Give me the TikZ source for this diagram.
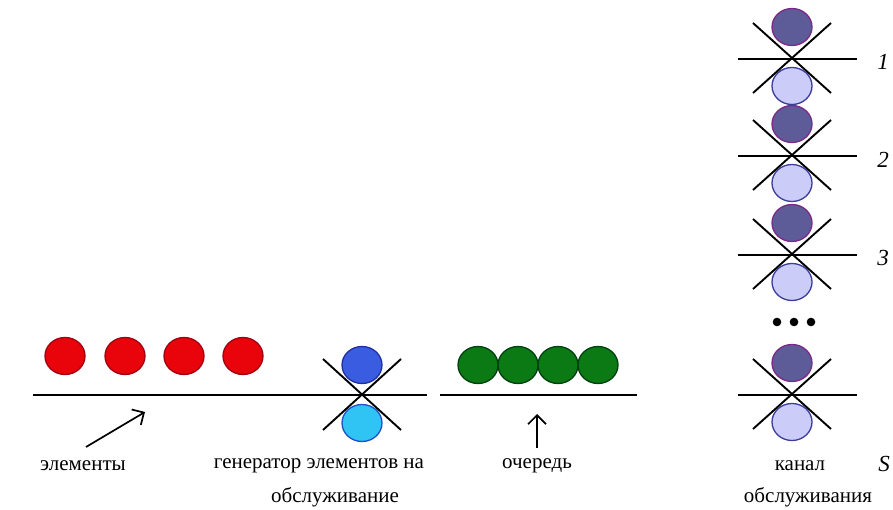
\documentclass[tikz,border=0pt]{standalone}
\usepackage{fontspec}
\setmainfont{Liberation Serif}
\usetikzlibrary{shapes.geometric,arrows.meta}
\definecolor{redf}{HTML}{E8040A}
\definecolor{redd}{HTML}{A00010}
\definecolor{grf}{HTML}{0B7A14}
\definecolor{grd}{HTML}{004010}
\definecolor{bluf}{HTML}{3A5CE0}
\definecolor{blud}{HTML}{2030A0}
\definecolor{cyf}{HTML}{30C4F4}
\definecolor{cyd}{HTML}{2050C8}
\definecolor{puf}{HTML}{5E5C98}
\definecolor{pud}{HTML}{7A2A88}
\definecolor{lvf}{HTML}{CCCCF8}
\definecolor{lvd}{HTML}{3C3C9C}
\tikzset{
  ball/.style={ellipse, minimum width=40pt, minimum height=37pt, inner sep=0pt, line width=1.3pt},
  redball/.style={ball, draw=redd, fill=redf},
  greenball/.style={ball, draw=grd, fill=grf},
  blueball/.style={ball, draw=blud, fill=bluf},
  cyanball/.style={ball, draw=cyd, fill=cyf},
  purpleball/.style={ball, draw=pud, fill=puf},
  lavball/.style={ball, draw=lvd, fill=lvf},
  track/.style={line width=2.2pt, black},
  xline/.style={line width=1.9pt, black},
  lbl/.style={font=\fontsize{21}{24}\selectfont, inner sep=0pt},
  num/.style={font=\fontsize{23}{26}\selectfont\itshape, inner sep=0pt},
  pointer/.style={line width=1.7pt, -{Straight Barb[length=9pt,width=18pt,line width=1.7pt]}}
}
\begin{document}
\begin{tikzpicture}[x=1pt,y=-1pt]
\useasboundingbox (0,0) rectangle (893,510);
% bottom track
\coordinate (t1s) at (33,395);
\coordinate (t1e) at (427,395);
\draw[track] (t1s) -- (t1e);
\node[redball] (r1) at (65,356) {};
\node[redball] (r2) at (125,356) {};
\node[redball] (r3) at (184,356) {};
\node[redball] (r4) at (243,356) {};
% generator
\coordinate (g) at (362,395);
\node[blueball] (gb) at (362,365) {};
\node[cyanball] (gc) at (362,423) {};
\coordinate (ga) at (323,359);
\coordinate (gb2) at (401,430);
\coordinate (gc1) at (323,430);
\coordinate (gd) at (401,359);
\draw[xline] (ga) -- (gb2);
\draw[xline] (gc1) -- (gd);
% queue
\coordinate (t2s) at (440,395);
\coordinate (t2e) at (637,395);
\draw[track] (t2s) -- (t2e);
\node[greenball] (q1) at (478,365) {};
\node[greenball] (q2) at (518,365) {};
\node[greenball] (q3) at (558,365) {};
\node[greenball] (q4) at (598,365) {};
% labels bottom
\node[lbl] (el) at (83,466) {элементы};
\node[lbl] (gen1) at (319,466) {генератор элементов на};
\node[lbl] (gen2) at (335,497) {обслуживание};
\node[lbl] (och) at (537,466) {очередь};
\coordinate (a1s) at (86,447);
\coordinate (a1e) at (145,412);
\draw[pointer] (a1s) -- (a1e);
\coordinate (a2s) at (537,448);
\coordinate (a2e) at (537,414);
\draw[pointer] (a2s) -- (a2e);
% channels
\foreach \y/\nm in {59/c1,156/c2,255/c3,395/cs}{
  \coordinate (\nm) at (792,\y);
  \coordinate (\nm l) at (738,\y);
  \coordinate (\nm r) at (857,\y);
  \draw[track] (\nm l) -- (\nm r);
  \node[purpleball] (\nm t) at (792,\y-32) {};
  \node[lavball] (\nm b) at (792,\y+27) {};
  \coordinate (\nm x1) at (753,\y-36);
  \coordinate (\nm x2) at (831,\y+34);
  \coordinate (\nm x3) at (753,\y+34);
  \coordinate (\nm x4) at (831,\y-36);
  \draw[xline] (\nm x1) -- (\nm x2);
  \draw[xline] (\nm x3) -- (\nm x4);
}
\node[num] (n1) at (883,62) {1};
\node[num] (n2) at (883,160) {2};
\node[num] (n3) at (883,258) {3};
\node[num] (ns) at (884,464) {S};
\fill (777,322) circle (4.3pt) node (d1) {};
\fill (794,322) circle (4.3pt) node (d2) {};
\fill (811,322) circle (4.3pt) node (d3) {};
\node[lbl] (kan1) at (800,466) {канал};
\node[lbl] (kan2) at (808,497) {обслуживания};
\end{tikzpicture}
\end{document}
